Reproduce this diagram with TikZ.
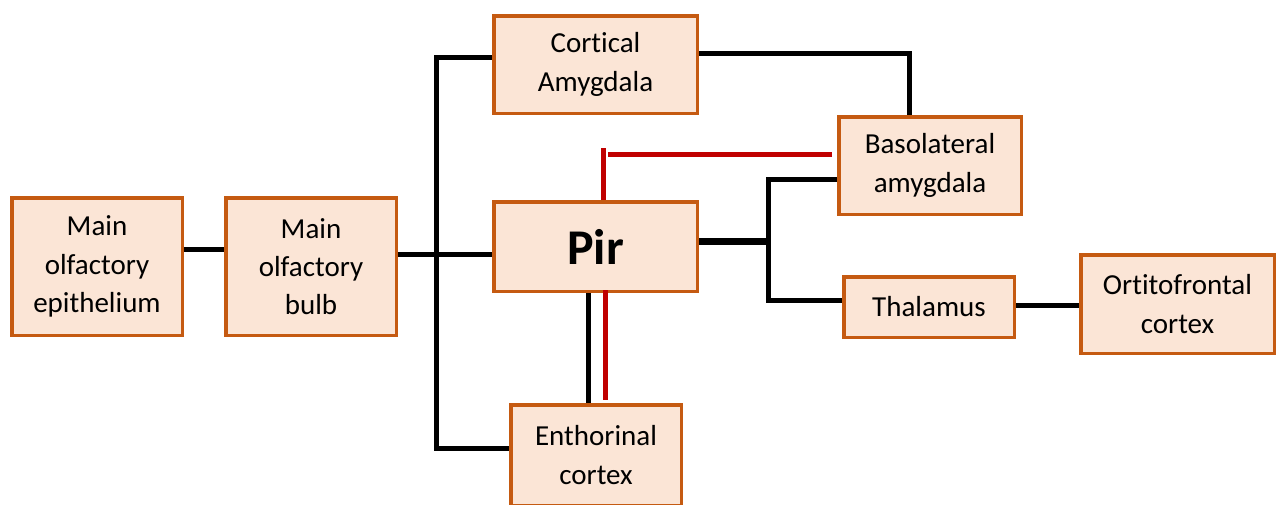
\documentclass[tikz,border=0pt]{standalone}
\usepackage{fontspec}
\setmainfont[RawFeature={-liga;-clig;-dlig}]{Carlito}
\definecolor{boxline}{HTML}{C55A11}
\definecolor{boxfill}{HTML}{FBE5D6}
\definecolor{redlink}{HTML}{C00000}
\begin{document}
\begin{tikzpicture}[
    x=1pt, y=-1pt,
    area/.style={draw=boxline, fill=boxfill, line width=3.5pt,
    align=center, inner sep=0pt, font=\fontsize{29}{38.3}\selectfont},
    size/.style 2 args={minimum width=#1pt, minimum height=#2pt},
    link/.style={line width=5pt, black},
    inhib/.style={line width=5pt, redlink}]
    \useasboundingbox (0,0) rectangle (1277,504);
    \clip (0,0) rectangle (1277,504);

    \node[area, size={170.5}{137.5}] (epi) at (97,266.5) {Main\\olfactory\\epithelium};
    \node[area, size={170.5}{137.5}] (bulb) at (311,266.5) {Main\\olfactory\\bulb};
    \node[area, size={203.5}{97.5}] (cort) at (595.5,64.5) {Cortical\\Amygdala};
    \node[area, size={203.5}{89.5}, font=\fontsize{50}{60}\selectfont\bfseries] (pir) at (595.5,246.5) {Pir};
    \node[area, size={182.5}{97.5}] (baso) at (930,165.5) {Basolateral\\amygdala};
    \node[area, size={170.5}{60.5}] (thal) at (929,307) {Thalamus};
    \node[area, size={193.5}{98.5}] (orbi) at (1177.5,304) {Ortitofrontal\\cortex};
    \node[area, size={170.5}{100.5}] (ent) at (596,455) {Enthorinal\\cortex};

    \coordinate (trunk) at (436,254);
    \coordinate (fork) at (768,241);

    \draw[link] ([yshift=17.5pt]epi.east) -- ([yshift=17.5pt]bulb.west);
    \draw[link] ([yshift=12.5pt]bulb.east) -- (trunk) -- (pir.west |- trunk);
    \draw[link] ([yshift=7.5pt]cort.west) -| (trunk) |- ([yshift=7pt]ent.west);
    \draw[link, line width=7pt] ([yshift=5.5pt]pir.east) -- (fork);
    \draw[link] ([yshift=-13.5pt]baso.west) -| (fork) |- ([yshift=7pt]thal.west);
    \draw[link] ([yshift=2pt]thal.east) -- ([yshift=-1pt]orbi.west);
    \draw[link] ([yshift=11.5pt]cort.east) -| ([xshift=-21pt]baso.north);
    \draw[link] ([xshift=-7.5pt]pir.south) -- ([xshift=-8pt]ent.north);

    \draw[inhib] ([xshift=7.5pt]pir.north) -- ++(0pt,52pt);
    \draw[inhib] ([xshift=-5pt,yshift=11.5pt]baso.west) -- ++(-224pt,0pt);
    \draw[inhib] ([xshift=9.5pt,yshift=3pt]pir.south) -- ([xshift=9pt,yshift=3pt]ent.north);
\end{tikzpicture}
\end{document}
